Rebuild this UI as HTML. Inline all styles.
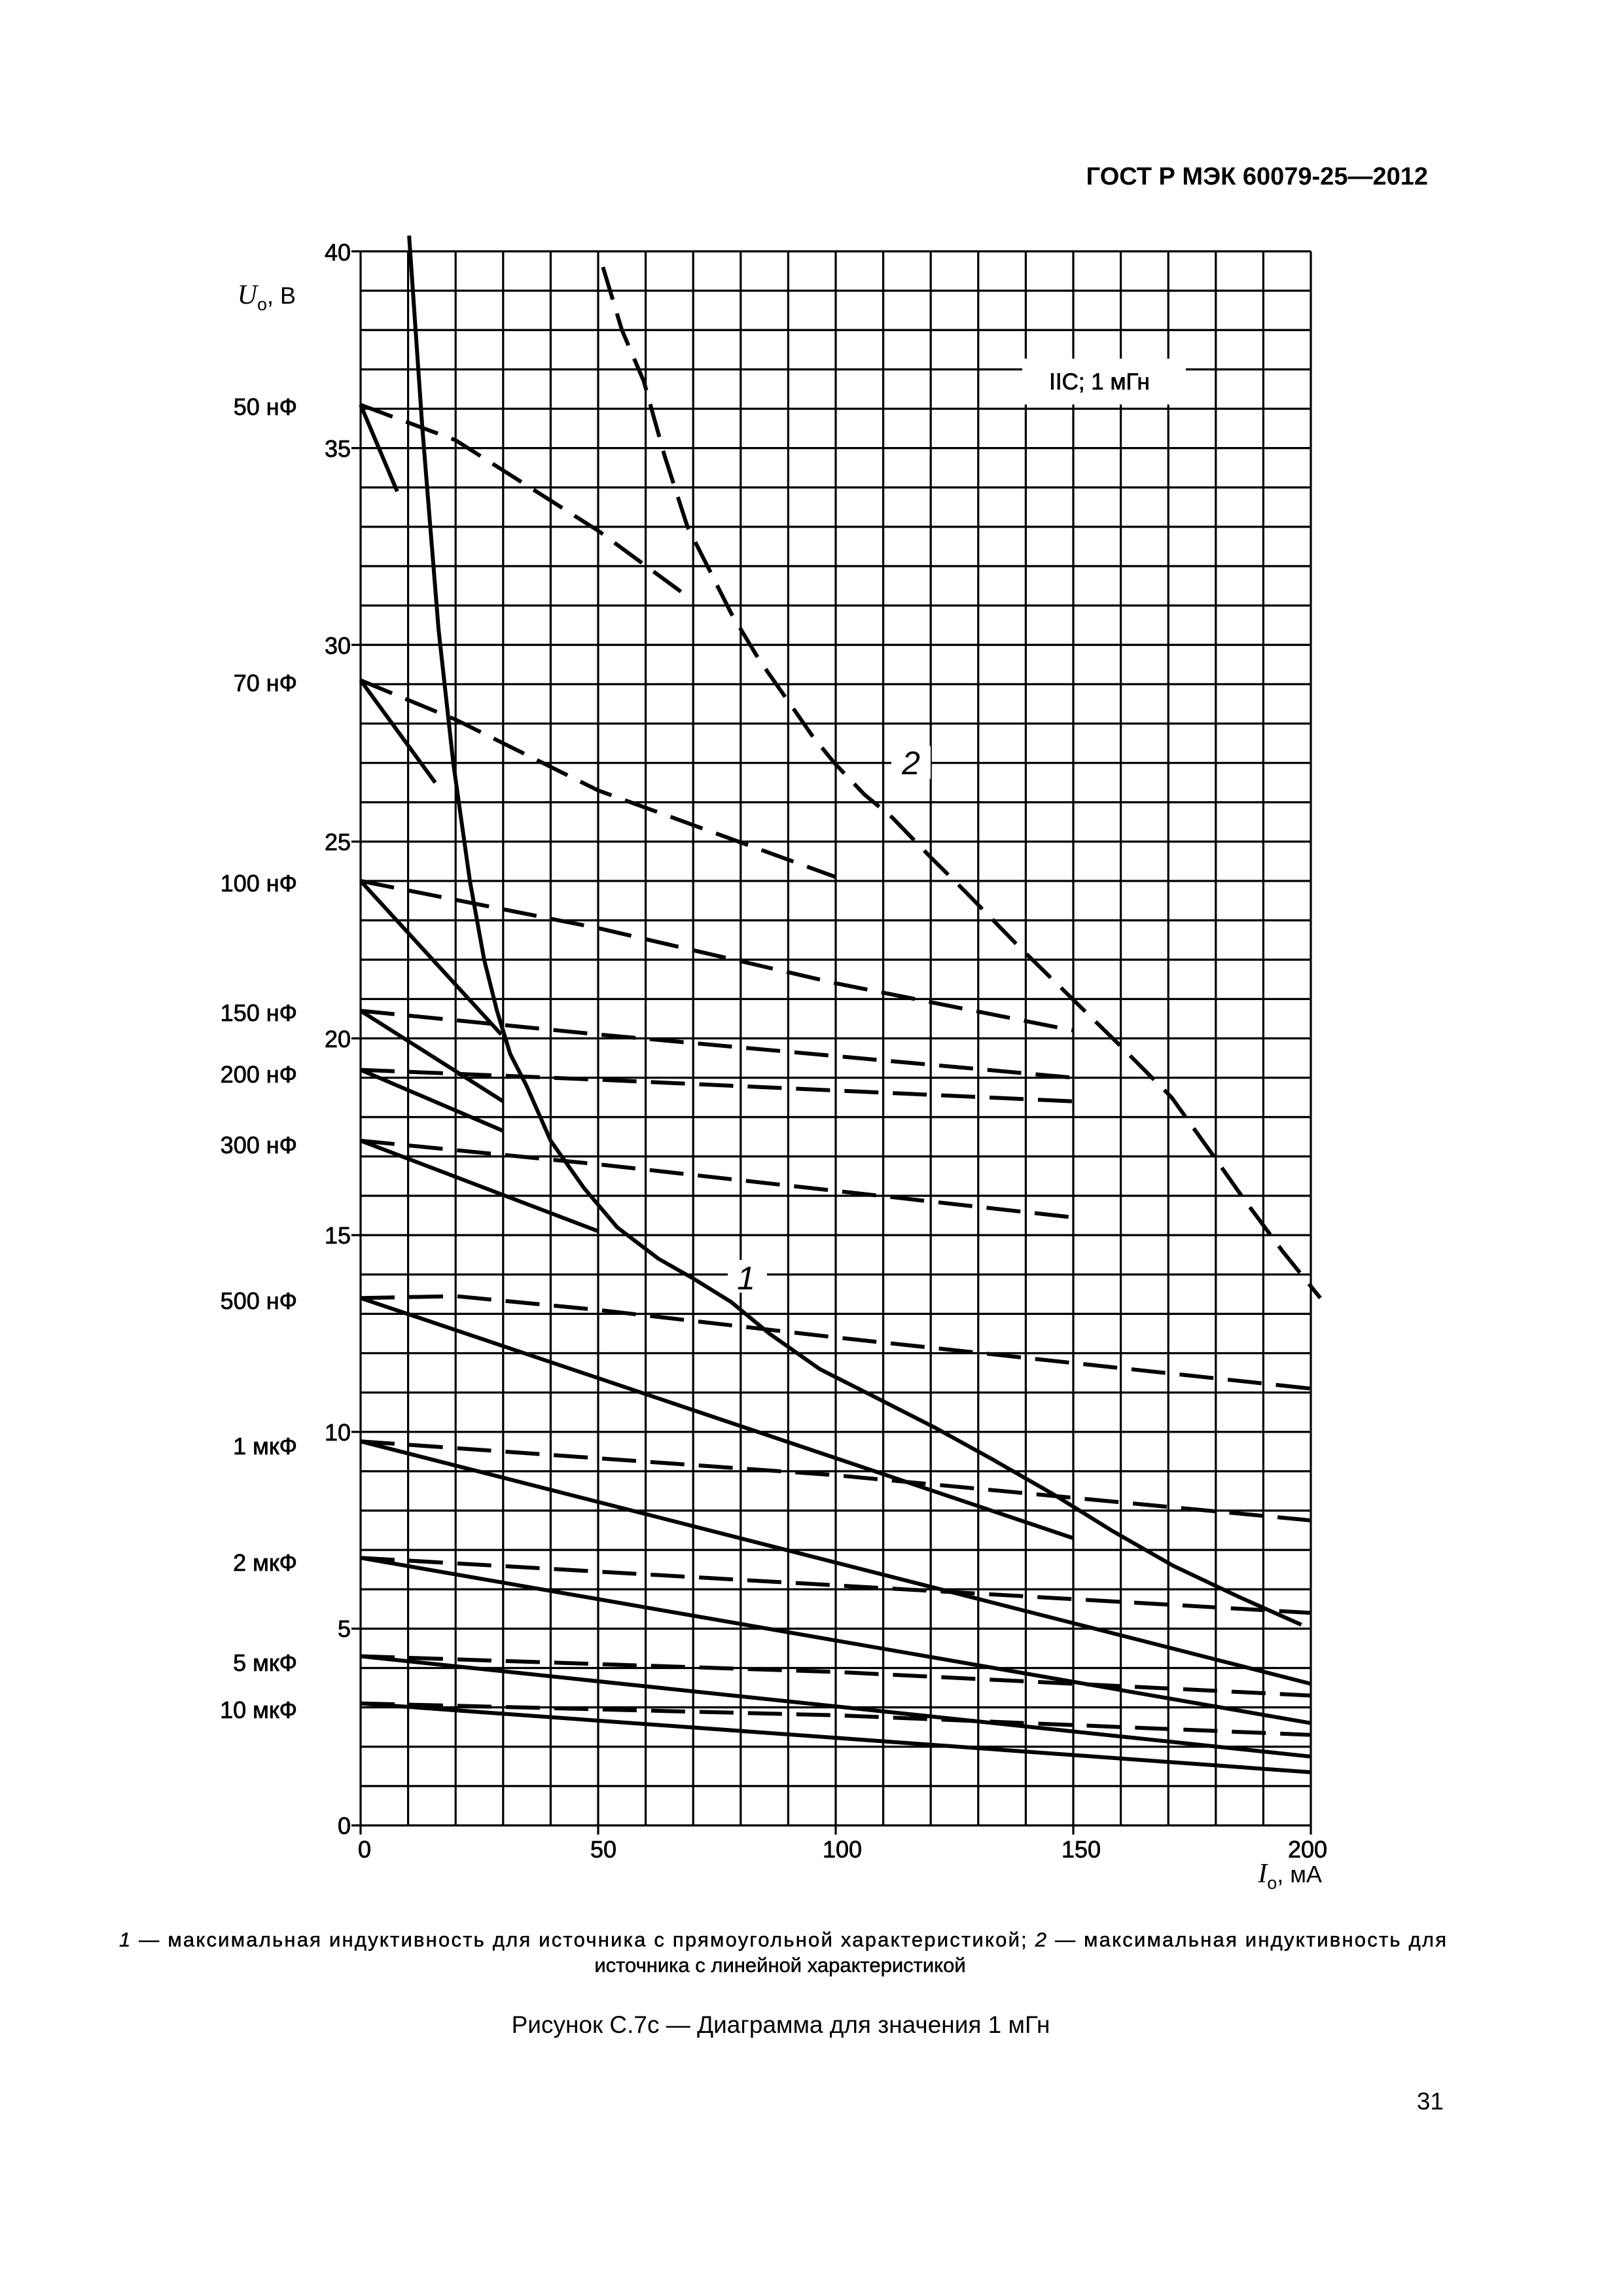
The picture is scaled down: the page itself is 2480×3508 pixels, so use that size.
<!DOCTYPE html>
<html><head><meta charset="utf-8"><style>
html,body{margin:0;padding:0;background:#fff}
body{width:2480px;height:3508px;position:relative;overflow:hidden;font-family:"Liberation Sans",sans-serif;color:#000}
svg{position:absolute;left:0;top:0}
</style></head><body>
<svg id="s" width="2480" height="3508" viewBox="0 0 2480 3508" font-family="Liberation Sans, sans-serif">
<text x="2182" y="282" font-size="38" font-weight="bold" text-anchor="end">ГОСТ Р МЭК 60079-25—2012</text>
<g id="grid" stroke="#000" stroke-width="3.2" fill="none"></g>
<g id="curves" stroke="#000" stroke-width="6" fill="none" stroke-linejoin="round"></g>
<rect x="1562" y="548" width="250" height="70" fill="#fff"/>
<text x="1680" y="595" font-size="35" text-anchor="middle" stroke="#000" stroke-width="0.8">IIC; 1 мГн</text>
<g font-size="36" text-anchor="end" stroke="#000" stroke-width="0.8">
<text x="536" y="398">40</text><text x="536" y="698">35</text><text x="536" y="999">30</text>
<text x="536" y="1299">25</text><text x="536" y="1600">20</text><text x="536" y="1900">15</text>
<text x="536" y="2201">10</text><text x="536" y="2501">5</text><text x="536" y="2802">0</text>
</g>
<g font-size="36" text-anchor="end" stroke="#000" stroke-width="0.8">
<text x="454" y="634">50 нФ</text><text x="454" y="1056">70 нФ</text><text x="454" y="1362">100 нФ</text>
<text x="454" y="1560">150 нФ</text><text x="454" y="1654">200 нФ</text><text x="454" y="1762">300 нФ</text>
<text x="454" y="2000">500 нФ</text><text x="454" y="2222">1 мкФ</text><text x="454" y="2400">2 мкФ</text>
<text x="454" y="2553">5 мкФ</text><text x="454" y="2625">10 мкФ</text>
</g>
<text x="452" y="464" font-size="36" text-anchor="end"><tspan font-style="italic" font-family="Liberation Serif, serif" font-size="42">U</tspan><tspan font-size="27" dy="10">o</tspan><tspan dy="-10">, В</tspan></text>
<g font-size="36" text-anchor="middle" stroke="#000" stroke-width="0.8">
<text x="557" y="2838">0</text><text x="922" y="2838">50</text><text x="1287" y="2838">100</text>
<text x="1652" y="2838">150</text><text x="1998" y="2838">200</text>
</g>
<text x="2020" y="2876" font-size="36" text-anchor="end"><tspan font-style="italic" font-family="Liberation Serif, serif" font-size="42">I</tspan><tspan font-size="27" dy="10">o</tspan><tspan dy="-10">, мА</tspan></text>
<rect x="1112" y="1925" width="60" height="50" fill="#fff"/>
<text x="1140" y="1970" font-size="50" font-style="italic" text-anchor="middle">1</text>
<rect x="1362" y="1140" width="60" height="50" fill="#fff"/>
<text x="1392" y="1183" font-size="50" font-style="italic" text-anchor="middle">2</text>
<text x="182" y="2974" font-size="31" textLength="2028" lengthAdjust="spacing" stroke="#000" stroke-width="0.5"><tspan font-style="italic">1</tspan> — максимальная индуктивность для источника с прямоугольной характеристикой; <tspan font-style="italic">2</tspan> — максимальная индуктивность для</text>
<text x="1192" y="3013" font-size="31" text-anchor="middle" stroke="#000" stroke-width="0.5">источника с линейной характеристикой</text>
<text x="1193" y="3106" font-size="37" text-anchor="middle">Рисунок С.7с — Диаграмма для значения 1 мГн</text>
<text x="2206" y="3223" font-size="37" text-anchor="end">31</text>
</svg>
<script>
var X0=551,Y0=2789,SX=(2003-551)/200,SY=(2789-384)/40;
function px(i){return X0+i*SX} function py(v){return Y0-v*SY}
var NS="http://www.w3.org/2000/svg";
var g=document.getElementById('grid'),c=document.getElementById('curves');
function line(par,x1,y1,x2,y2){var l=document.createElementNS(NS,'line');l.setAttribute('x1',x1);l.setAttribute('y1',y1);l.setAttribute('x2',x2);l.setAttribute('y2',y2);par.appendChild(l);}
for(var v=0;v<=40;v++){var y=py(v);line(g,(v%5==0)?537:X0,y,px(200),y);}
for(var i=0;i<=200;i+=10){var x=px(i);line(g,x,py(40),x,py(0)+(i%50==0?14:0));}
function path(pts,dash,w){var d='';pts.forEach(function(p,k){d+=(k?'L':'M')+px(p[0]).toFixed(1)+' '+py(p[1]).toFixed(1)});
var e=document.createElementNS(NS,'path');e.setAttribute('d',d);if(dash)e.setAttribute('stroke-dasharray','52 22');if(w)e.setAttribute('stroke-width',w);c.appendChild(e);}
path([[10.2,40.4],[13,35.5],[16.4,30.4],[19.5,27],[23,24],[26,22],[28.7,20.7],[31.5,19.6],[34.9,18.8],[40,17.4],[47,16.2],[54,15.2],[62.7,14.4],[70,13.9],[78,13.3],[86,12.5],[96.6,11.6],[108,10.9],[121,10.1],[133,9.3],[146,8.4],[158,7.5],[171,6.6],[185,5.8],[198,5.1]]);
path([[51,39.6],[55,38],[59.6,36.7],[64,34.8],[68.8,33],[73,32],[78,30.8],[84,29.6],[90.4,28.5],[95,27.7],[99.7,27],[106,26.2],[112,25.6],[120,24.6],[127.5,23.7],[138,22.4],[149,21.1],[160,19.8],[170.7,18.5],[179,17.1],[186,15.9],[194,14.6],[202,13.4]],true);
var L=[
[[[0,36.1],[7.7,33.9]],[[0,36.1],[20,35.2],[50,32.9],[68,31.3]]],
[[[0,29.1],[15.7,26.5]],[[0,29.1],[20,28.1],[50,26.3],[100,24.1]]],
[[[0,24],[29.6,20.1]],[[0,24],[50,22.8],[100,21.4],[150,20.2]]],
[[[0,20.7],[30,18.4]],[[0,20.7],[50,20.1],[150,19.0]]],
[[[0,19.2],[30,17.65]],[[0,19.2],[50,18.95],[150,18.4]]],
[[[0,17.4],[50,15.1]],[[0,17.4],[50,16.8],[150,15.45]]],
[[[0,13.4],[150,7.3]],[[0,13.4],[20,13.45],[50,13.1],[100,12.4],[200,11.1]]],
[[[0,9.76],[200,3.6]],[[0,9.76],[100,8.9],[200,7.75]]],
[[[0,6.8],[200,2.6]],[[0,6.8],[100,6.1],[200,5.4]]],
[[[0,4.3],[200,1.75]],[[0,4.3],[100,3.9],[200,3.3]]],
[[[0,3.1],[200,1.35]],[[0,3.1],[100,2.8],[200,2.3]]]];
L.forEach(function(p){path(p[0]);path(p[1],true);});
</script>
</body></html>
